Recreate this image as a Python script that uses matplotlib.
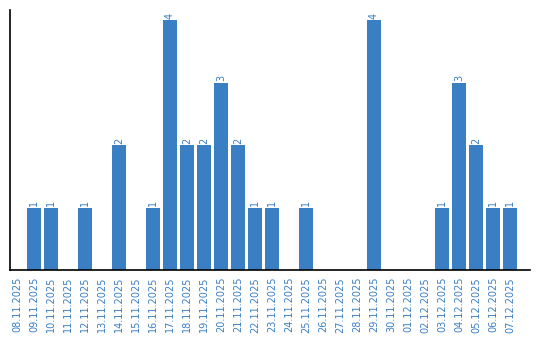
import matplotlib
matplotlib.use("Agg")
import matplotlib.pyplot as plt

dates = [
    "08.11.2025", "09.11.2025", "10.11.2025", "11.11.2025", "12.11.2025",
    "13.11.2025", "14.11.2025", "15.11.2025", "16.11.2025", "17.11.2025",
    "18.11.2025", "19.11.2025", "20.11.2025", "21.11.2025", "22.11.2025",
    "23.11.2025", "24.11.2025", "25.11.2025", "26.11.2025", "27.11.2025",
    "28.11.2025", "29.11.2025", "30.11.2025", "01.12.2025", "02.12.2025",
    "03.12.2025", "04.12.2025", "05.12.2025", "06.12.2025", "07.12.2025",
]
counts = [0, 1, 1, 0, 1, 0, 2, 0, 1, 4, 2, 2, 3, 2, 1, 1, 0, 1, 0, 0, 0, 4, 0, 0, 0, 1, 3, 2, 1, 1]

BLUE = "#3a7ec4"

fig = plt.figure(figsize=(5.4, 3.4), dpi=100)
ax = fig.add_axes([10 / 540, 70 / 340, 520 / 540, 260 / 340])

x = list(range(len(dates)))
ax.bar(x, counts, width=0.82, color=BLUE)

for xi, c in zip(x, counts):
    if c > 0:
        ax.annotate(str(c), (xi, c), xytext=(0, 1), textcoords="offset points",
                    ha="center", va="bottom", rotation=90, color=BLUE, fontsize=7)

ax.set_xlim(-0.41, 30.18)
ax.set_ylim(0, 4.16)
ax.set_xticks(x)
ax.set_xticklabels(dates, rotation=90, color=BLUE, fontsize=7)
ax.tick_params(axis="x", length=0, pad=5)
ax.set_yticks([])
ax.spines["top"].set_visible(False)
ax.spines["right"].set_visible(False)
for side in ("left", "bottom"):
    ax.spines[side].set_linewidth(1.2)

fig.savefig("out.png", dpi=100)
